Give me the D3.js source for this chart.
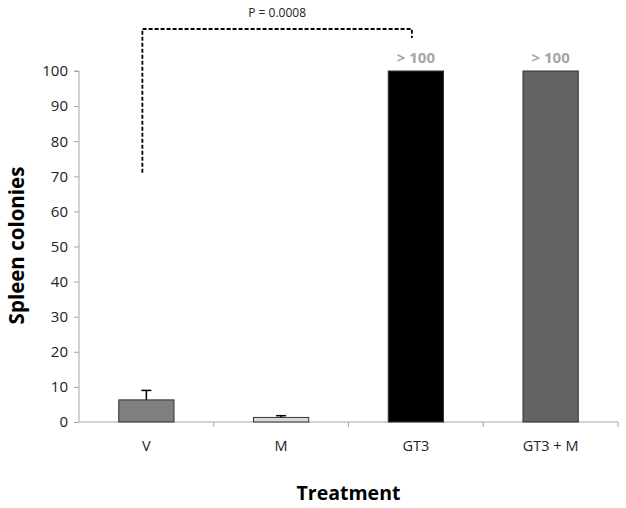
<!DOCTYPE html>
<html><head><meta charset="utf-8">
<script src="https://cdn.jsdelivr.net/npm/d3@7"></script>
<style>body{margin:0;background:#fff}svg{display:block}</style>
</head><body>
<svg id="c" width="626" height="508"></svg>
<script>
const categories = ["V", "M", "GT3", "GT3 + M"];
const values = [6.3, 1.3, 100, 100];
const errors = [2.7, 0.5, null, null];
const colors = ["#7f7f7f", "#d9d9d9", "#000000", "#636363"];
const topLabels = [null, null, "> 100", "> 100"];
const yTicks = [0,10,20,30,40,50,60,70,80,90,100];
const pText = "P = 0.0008";
const bracketFrom = 0, bracketTo = 2, bracketLeftBottom = 71;

const svg = d3.select("#c");
const font = "'Open Sans', 'Liberation Sans', sans-serif";
const m = {l:79, r:8, t:71, b:86};
const W = 626, H = 508;
const x = d3.scaleBand().domain(categories).range([m.l, W - m.r]).paddingInner(0.59).paddingOuter(0.295);
const y = d3.scaleLinear().domain([0,100]).range([H - m.b, m.t]);
const axisColor = "#a6a6a6";
const rows = categories.map((c,i) => ({c, v: values[i], e: errors[i], col: colors[i], lab: topLabels[i]}));

// y axis
const ya = svg.append("g").attr("transform", `translate(${m.l},0)`)
  .call(d3.axisLeft(y).tickValues(yTicks).tickSize(5).tickPadding(6));
ya.select(".domain").attr("stroke", axisColor).attr("d", `M-5,${y(100)}H0V${y(0)}`);
ya.selectAll(".tick line").attr("stroke", axisColor);
ya.selectAll(".tick text").attr("font-family", font).attr("font-size", 15).attr("fill", "#222");

// x axis
const xa = svg.append("g").attr("transform", `translate(0,${y(0)})`)
  .call(d3.axisBottom(x).tickSize(0).tickPadding(19));
xa.select(".domain").attr("stroke", axisColor).attr("d", `M${m.l},0H${W - m.r}`);
xa.selectAll(".tick text").attr("font-family", font).attr("font-size", 14.5).attr("fill", "#222");
const step = x.step();
const bounds = categories.map(c => x(c) - x.paddingInner()*step/2).concat([x(categories[3]) + x.bandwidth() + x.paddingInner()*step/2]);
svg.append("g").selectAll("line").data(bounds.slice(1)).join("line")
  .attr("x1", d => d).attr("x2", d => d).attr("y1", y(0)).attr("y2", y(0) + 5)
  .attr("stroke", axisColor);

// bars
svg.append("g").selectAll("rect").data(rows).join("rect")
  .attr("x", d => x(d.c)).attr("width", x.bandwidth())
  .attr("y", d => y(d.v)).attr("height", d => y(0) - y(d.v))
  .attr("fill", d => d.col).attr("stroke", "#333").attr("stroke-width", 1);

// error bars (upper only)
const eg = svg.append("g");
rows.filter(d => d.e != null).forEach(d => {
  const cx = x(d.c) + x.bandwidth()/2;
  eg.append("line").attr("x1", cx).attr("x2", cx).attr("y1", y(d.v)).attr("y2", y(d.v + d.e))
    .attr("stroke", "#000").attr("stroke-width", 1.5);
  eg.append("line").attr("x1", cx - 5).attr("x2", cx + 5).attr("y1", y(d.v + d.e)).attr("y2", y(d.v + d.e))
    .attr("stroke", "#000").attr("stroke-width", 1.5);
});

// top labels
svg.append("g").selectAll("text").data(rows.filter(d => d.lab)).join("text")
  .attr("x", d => x(d.c) + x.bandwidth()/2).attr("y", d => y(d.v) - 8)
  .attr("text-anchor", "middle").attr("font-family", font).attr("font-size", 15).attr("font-weight", "bold")
  .attr("fill", "#a6a6a6").text(d => d.lab);

// significance bracket
const bx1 = x(categories[bracketFrom]) + x.bandwidth()/2 - 4;
const bx2 = x(categories[bracketTo]) + x.bandwidth()/2 - 4;
const bTop = 29, bRightEnd = 38;
svg.append("path")
  .attr("d", `M${bx1},${y(bracketLeftBottom)}V${bTop}H${bx2}V${bRightEnd}`)
  .attr("fill", "none").attr("stroke", "#000").attr("stroke-width", 1.8).attr("stroke-dasharray", "4,2");
svg.append("text").attr("x", (bx1 + bx2)/2).attr("y", 17).attr("text-anchor", "middle")
  .attr("font-family", font).attr("font-size", 12).attr("fill", "#222").text(pText);

// axis titles
svg.append("text").attr("transform", `translate(24,${(y(0)+y(100))/2 - 1}) rotate(-90)`)
  .attr("text-anchor", "middle").attr("font-family", font).attr("font-size", 20.5).attr("font-weight", "bold")
  .attr("fill", "#000").text("Spleen colonies");
svg.append("text").attr("x", (m.l + W - m.r)/2).attr("y", 500).attr("text-anchor", "middle")
  .attr("font-family", font).attr("font-size", 19.5).attr("font-weight", "bold").attr("fill", "#000").text("Treatment");
</script>
</body></html>
